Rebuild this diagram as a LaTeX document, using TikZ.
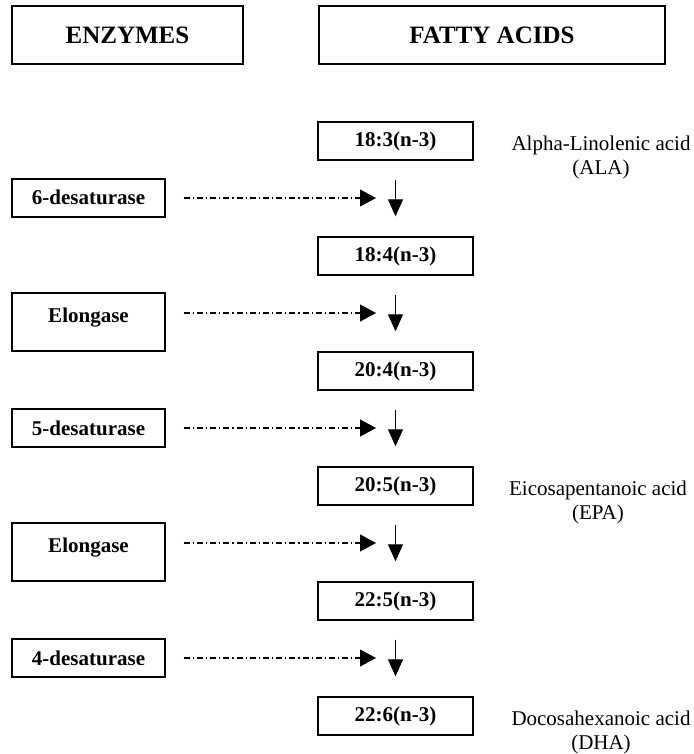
\documentclass[tikz,border=0pt]{standalone}
\usepackage{fontspec}
\setmainfont{Liberation Serif}
\usetikzlibrary{arrows.meta}

\tikzset{
    headbox/.style={draw, line width=0.7pt, inner sep=0pt, minimum height=29pt, font=\fontsize{12.5}{15}\selectfont\bfseries},
    fabox/.style={draw, line width=0.7pt, inner sep=0pt, minimum width=77.5pt, minimum height=19pt, font=\fontsize{10.5}{12}\selectfont\bfseries},
    enzbox/.style={draw, line width=0.7pt, inner sep=0pt, minimum width=76.5pt, anchor=base, font=\fontsize{10.5}{12}\selectfont\bfseries},
    faname/.style={anchor=north, align=center, inner sep=0pt, font=\fontsize{10.5}{12}\selectfont},
    downarr/.style={line width=0.6pt, -{Triangle[length=8.5pt,width=7.5pt]}, shorten <=9.5pt, shorten >=10pt},
    enzarr/.style={line width=0.6pt, dash pattern=on 3pt off 1.5pt on 0.6pt off 1.5pt, -{Triangle[length=8pt,width=8.5pt]}, shorten <=9pt, shorten >=9.75pt}
}

\begin{document}
\begin{tikzpicture}[x=0.5pt, y=-0.5pt]
        \useasboundingbox (0,0) rectangle (693,754);
        \node[headbox, minimum width=115.5pt] (enzhead) at (127.5,35) {ENZYMES}; % column titles
        \node[headbox, minimum width=173pt] (fahead) at (492,35) {FATTY ACIDS};
        % fatty acids
        \foreach \n/\y/\t in {1/141/{18:3(n-3)}, 2/256/{18:4(n-3)}, 3/371/{20:4(n-3)}, 4/486/{20:5(n-3)}, 5/601/{22:5(n-3)}, 6/716/{22:6(n-3)}}
            \node[fabox] (fa\n) at (395.5,\y) {\t};
        \foreach \a/\b in {1/2,2/3,3/4,4/5,5/6}
            \draw[downarr] (fa\a.south) -- (fa\b.north);
        \foreach \n/\y in {1/198,2/313,3/428,4/543,5/658}
            \coordinate (m\n) at (395.5,\y); % middle of the step arrows
        % enzymes
        \node[enzbox, text height=13pt, text depth=6pt] (enz1) at (88.5,205) {6-desaturase};
        \node[enzbox, text height=14.5pt, text depth=14.5pt] (enz2) at (88.5,322) {Elongase};
        \node[enzbox, text height=13pt, text depth=6pt] (enz3) at (88.5,435) {5-desaturase};
        \node[enzbox, text height=14.5pt, text depth=14.5pt] (enz4) at (88.5,552) {Elongase};
        \node[enzbox, text height=13pt, text depth=6pt] (enz5) at (88.5,665) {4-desaturase};
        \foreach \n in {1,...,5}
            \draw[enzarr] (enz\n.east |- m\n) -- (m\n);
        % names
        \node[faname] (ala) at (601,135.5) {Alpha-Linolenic acid\\(ALA)};
        \node[faname] (epa) at (598,480.5) {Eicosapentanoic acid\\(EPA)};
        \node[faname] (dha) at (601,710.5) {Docosahexanoic acid\\(DHA)};
    \end{tikzpicture}
\end{document}
